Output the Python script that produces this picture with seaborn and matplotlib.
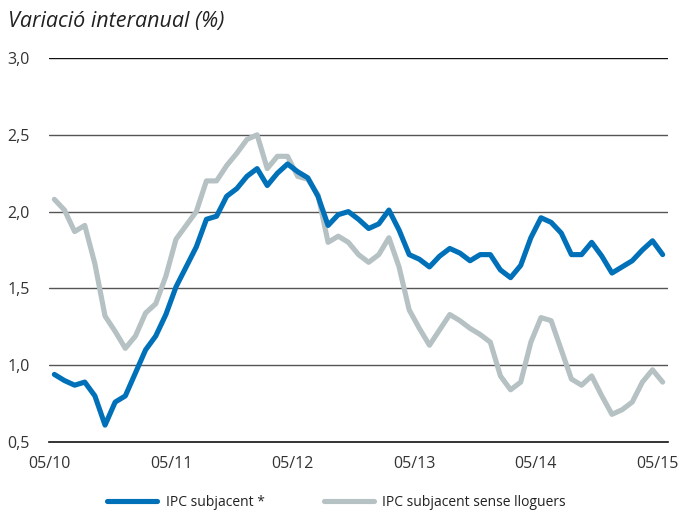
import numpy as np
import pandas as pd
import matplotlib
matplotlib.use("Agg")
import matplotlib.pyplot as plt
import seaborn as sns

# dades mensuals 05/10 - 05/15
tick_labels = ["05/10", "05/11", "05/12", "05/13", "05/14", "05/15"]
ipc_subjacent = [
    0.94, 0.90, 0.87, 0.89, 0.80, 0.61, 0.76, 0.80, 0.95, 1.10,
    1.19, 1.33, 1.51, 1.64, 1.77, 1.95, 1.97, 2.10, 2.15, 2.23,
    2.28, 2.17, 2.25, 2.31, 2.26, 2.22, 2.10, 1.91, 1.98, 2.00,
    1.95, 1.89, 1.92, 2.01, 1.88, 1.72, 1.69, 1.64, 1.71, 1.76,
    1.73, 1.68, 1.72, 1.72, 1.62, 1.57, 1.65, 1.83, 1.96, 1.93,
    1.86, 1.72, 1.72, 1.80, 1.71, 1.60, 1.64, 1.68, 1.75, 1.81,
    1.72,
]
ipc_sense_lloguers = [
    2.08, 2.01, 1.87, 1.91, 1.66, 1.32, 1.22, 1.11, 1.19, 1.34,
    1.40, 1.58, 1.82, 1.91, 2.00, 2.20, 2.20, 2.30, 2.38, 2.47,
    2.50, 2.28, 2.36, 2.36, 2.23, 2.21, 2.11, 1.80, 1.84, 1.80,
    1.72, 1.67, 1.72, 1.83, 1.64, 1.36, 1.24, 1.13, 1.23, 1.33,
    1.29, 1.24, 1.20, 1.15, 0.93, 0.84, 0.89, 1.15, 1.31, 1.29,
    1.10, 0.91, 0.87, 0.93, 0.80, 0.68, 0.71, 0.76, 0.89, 0.97,
    0.89,
]
series_names = ["IPC subjacent *", "IPC subjacent sense lloguers"]
colors = ["#0071b9", "#b5c1c3"]

n = len(ipc_subjacent)
df = pd.DataFrame({
    "mes": np.concatenate([np.arange(n) + 0.5, np.arange(n) + 0.5]),
    "valor": ipc_subjacent + ipc_sense_lloguers,
    "serie": [series_names[0]] * n + [series_names[1]] * n,
})

sns.set_style("white")
plt.rcParams["font.family"] = ["Open Sans", "DejaVu Sans"]

fig = plt.figure(figsize=(6.97, 5.12), dpi=100)
ax = fig.add_axes([0.0707, 0.1367, 0.958 - 0.0707, 0.8867 - 0.1367])

# la serie grisa va per sota
sns.lineplot(data=df, x="mes", y="valor", hue="serie", hue_order=series_names[::-1],
             palette=colors[::-1], linewidth=3.7, ax=ax, legend=False)

ax.set_xlim(0, 61)
ax.set_ylim(0.5, 3.0)
yt = [0.5, 1.0, 1.5, 2.0, 2.5, 3.0]
ax.set_yticks(yt)
ax.set_yticklabels([f"{v:.1f}".replace(".", ",") for v in yt])
ax.set_xticks(np.arange(0, 61, 12))
ax.set_xticklabels(tick_labels)

for v in yt[1:]:
    ax.axhline(v, color="#111111" if v == 3.0 else "#555555", linewidth=1.0, zorder=0)

for s in ["top", "right", "left"]:
    ax.spines[s].set_visible(False)
ax.spines["bottom"].set_color("#111111")
ax.spines["bottom"].set_linewidth(1.2)

ax.tick_params(axis="y", length=0, pad=14, labelsize=11.5, labelcolor="#333333")
ax.tick_params(axis="x", direction="in", length=4, width=1, color="#111111",
               pad=10, labelsize=11.5, labelcolor="#333333")
ax.set_xlabel("")
ax.set_ylabel("")

fig.text(0.012, 0.958, "Variació interanual (%)", fontsize=15.5, style="italic",
         color="#222222", va="center", ha="left")

handles = [plt.Line2D([], [], color=c, linewidth=3.7, solid_capstyle="round") for c in colors]
fig.legend(handles, series_names, loc="center", bbox_to_anchor=(0.483, 0.018),
           ncol=2, frameon=False, fontsize=10, handlelength=3.6, handletextpad=0.6,
           columnspacing=4.3, labelcolor="#222222")

fig.savefig("out.png", dpi=100)
plt.close(fig)
